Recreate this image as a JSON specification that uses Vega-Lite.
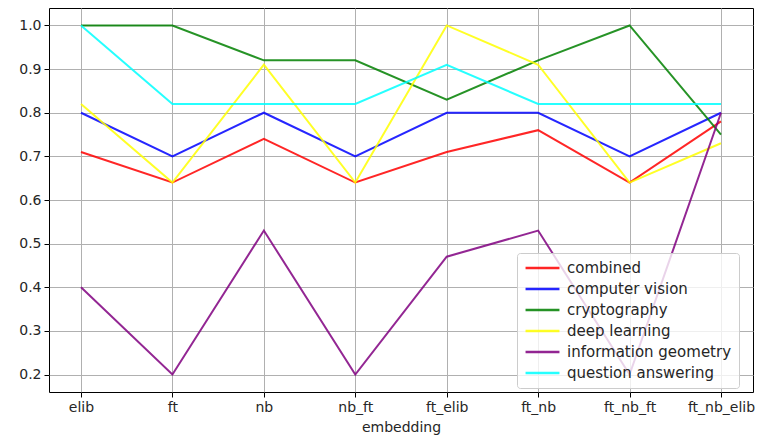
{
  "$schema": "https://vega.github.io/schema/vega-lite/v6.json",
  "width": 704,
  "height": 384,
  "autosize": {"type": "none"},
  "padding": {"left": 49, "top": 8, "right": 7, "bottom": 49},
  "config": {
    "font": "DejaVu Sans",
    "view": {"stroke": "#000000", "strokeWidth": 1},
    "axis": {
      "labelFont": "DejaVu Sans", "labelFontSize": 14, "labelColor": "#262626",
      "titleFont": "DejaVu Sans", "titleFontSize": 14, "titleFontWeight": "normal", "titleColor": "#262626",
      "gridColor": "#b0b0b0", "gridWidth": 1, "gridOpacity": 1,
      "tickColor": "#000000", "tickSize": 5, "domain": false
    }
  },
  "data": {"values": [
    {"embedding": "elib", "topic": "combined", "value": 0.71},
    {"embedding": "ft", "topic": "combined", "value": 0.64},
    {"embedding": "nb", "topic": "combined", "value": 0.74},
    {"embedding": "nb_ft", "topic": "combined", "value": 0.64},
    {"embedding": "ft_elib", "topic": "combined", "value": 0.71},
    {"embedding": "ft_nb", "topic": "combined", "value": 0.76},
    {"embedding": "ft_nb_ft", "topic": "combined", "value": 0.64},
    {"embedding": "ft_nb_elib", "topic": "combined", "value": 0.78},
    {"embedding": "elib", "topic": "computer vision", "value": 0.8},
    {"embedding": "ft", "topic": "computer vision", "value": 0.7},
    {"embedding": "nb", "topic": "computer vision", "value": 0.8},
    {"embedding": "nb_ft", "topic": "computer vision", "value": 0.7},
    {"embedding": "ft_elib", "topic": "computer vision", "value": 0.8},
    {"embedding": "ft_nb", "topic": "computer vision", "value": 0.8},
    {"embedding": "ft_nb_ft", "topic": "computer vision", "value": 0.7},
    {"embedding": "ft_nb_elib", "topic": "computer vision", "value": 0.8},
    {"embedding": "elib", "topic": "cryptography", "value": 1.0},
    {"embedding": "ft", "topic": "cryptography", "value": 1.0},
    {"embedding": "nb", "topic": "cryptography", "value": 0.92},
    {"embedding": "nb_ft", "topic": "cryptography", "value": 0.92},
    {"embedding": "ft_elib", "topic": "cryptography", "value": 0.83},
    {"embedding": "ft_nb", "topic": "cryptography", "value": 0.92},
    {"embedding": "ft_nb_ft", "topic": "cryptography", "value": 1.0},
    {"embedding": "ft_nb_elib", "topic": "cryptography", "value": 0.75},
    {"embedding": "elib", "topic": "deep learning", "value": 0.82},
    {"embedding": "ft", "topic": "deep learning", "value": 0.64},
    {"embedding": "nb", "topic": "deep learning", "value": 0.91},
    {"embedding": "nb_ft", "topic": "deep learning", "value": 0.64},
    {"embedding": "ft_elib", "topic": "deep learning", "value": 1.0},
    {"embedding": "ft_nb", "topic": "deep learning", "value": 0.91},
    {"embedding": "ft_nb_ft", "topic": "deep learning", "value": 0.64},
    {"embedding": "ft_nb_elib", "topic": "deep learning", "value": 0.73},
    {"embedding": "elib", "topic": "information geometry", "value": 0.4},
    {"embedding": "ft", "topic": "information geometry", "value": 0.2},
    {"embedding": "nb", "topic": "information geometry", "value": 0.53},
    {"embedding": "nb_ft", "topic": "information geometry", "value": 0.2},
    {"embedding": "ft_elib", "topic": "information geometry", "value": 0.47},
    {"embedding": "ft_nb", "topic": "information geometry", "value": 0.53},
    {"embedding": "ft_nb_ft", "topic": "information geometry", "value": 0.2},
    {"embedding": "ft_nb_elib", "topic": "information geometry", "value": 0.8},
    {"embedding": "elib", "topic": "question answering", "value": 1.0},
    {"embedding": "ft", "topic": "question answering", "value": 0.82},
    {"embedding": "nb", "topic": "question answering", "value": 0.82},
    {"embedding": "nb_ft", "topic": "question answering", "value": 0.82},
    {"embedding": "ft_elib", "topic": "question answering", "value": 0.91},
    {"embedding": "ft_nb", "topic": "question answering", "value": 0.82},
    {"embedding": "ft_nb_ft", "topic": "question answering", "value": 0.82},
    {"embedding": "ft_nb_elib", "topic": "question answering", "value": 0.82}
  ]},
  "mark": {"type": "line", "strokeWidth": 2, "opacity": 0.85},
  "encoding": {
    "x": {
      "field": "embedding", "type": "ordinal",
      "sort": ["elib", "ft", "nb", "nb_ft", "ft_elib", "ft_nb", "ft_nb_ft", "ft_nb_elib"],
      "scale": {"type": "point", "padding": 0.35},
      "axis": {"labelAngle": 0, "title": "embedding", "grid": true, "labelPadding": 3, "titlePadding": 6}
    },
    "y": {
      "field": "value", "type": "quantitative",
      "scale": {"domain": [0.16, 1.04], "nice": false, "zero": false},
      "axis": {"title": null, "values": [0.2, 0.3, 0.4, 0.5, 0.6, 0.7, 0.8, 0.9, 1.0], "format": ".1f", "grid": true, "labelPadding": 3}
    },
    "color": {
      "field": "topic", "type": "nominal",
      "scale": {
        "domain": ["combined", "computer vision", "cryptography", "deep learning", "information geometry", "question answering"],
        "range": ["#ff0000", "#0000ff", "#008000", "#ffff00", "#800080", "#00ffff"]
      },
      "legend": {
        "title": null, "orient": "none", "legendX": 468, "legendY": 245,
        "symbolType": "stroke", "symbolStrokeWidth": 2.5, "symbolSize": 1150,
        "labelFont": "DejaVu Sans", "labelFontSize": 15, "labelColor": "#262626", "labelLimit": 400,
        "fillColor": "rgba(255,255,255,0.8)", "strokeColor": "#cccccc", "cornerRadius": 3,
        "padding": 7, "rowPadding": 5, "clipHeight": 16, "labelOffset": 6
      }
    }
  }
}
